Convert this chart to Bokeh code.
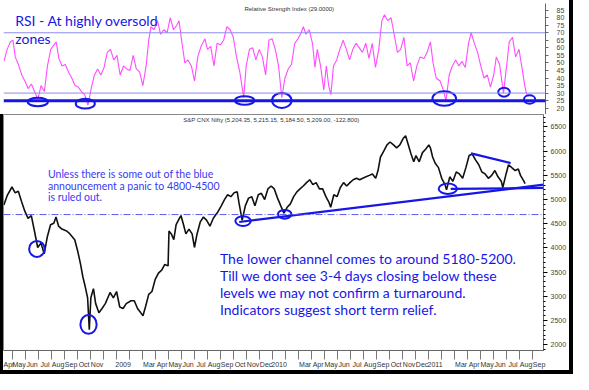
from bokeh.plotting import figure
from bokeh.layouts import column, row
from bokeh.models import Range1d, FixedTicker, Span, Div
from bokeh.embed import file_html
from bokeh.resources import INLINE
from bokeh.core.properties import value

# x values: months since 1 Jan 2008 (fractional)
price_month = [3.33, 3.58, 3.95, 4.20, 4.44, 4.70, 4.94, 5.19, 5.44, 5.68, 5.93, 6.18, 6.43, 6.67, 6.92,
               7.17, 7.34, 7.54, 7.79, 8.16, 8.41, 8.78, 9.03, 9.23, 9.40, 9.57, 9.77, 9.90, 10.02, 10.22,
               10.39, 10.64, 10.88, 11.13, 11.50, 11.75, 12.00, 12.24, 12.50, 12.74, 13.11, 13.36, 13.61,
               13.86, 14.03, 14.23, 14.47, 14.72, 14.97, 15.22, 15.47, 15.71, 15.96, 16.03, 16.21, 16.40,
               16.58, 16.83, 16.95, 17.15, 17.33, 17.57, 17.81, 17.99, 18.19, 18.44, 18.68, 18.93, 19.18,
               19.43, 19.67, 19.80, 20.05, 20.30, 20.54, 20.79, 21.04, 21.28, 21.41, 21.66, 21.90, 22.15,
               22.40, 22.64, 22.90, 23.14, 23.39, 23.64, 23.89, 24.13, 24.38, 24.63, 24.87, 25.12, 25.37,
               25.62, 25.87, 26.11, 26.36, 26.61, 26.86, 27.10, 27.35, 27.60, 27.85, 28.10, 28.34, 28.47,
               28.71, 28.96, 29.21, 29.46, 29.70, 29.95, 30.20, 30.45, 30.70, 30.94, 31.19, 31.44, 31.68,
               31.93, 32.11, 32.30, 32.55, 32.80, 33.04, 33.30, 33.54, 33.79, 34.04, 34.23, 34.41, 34.65,
               34.86, 35.03, 35.28, 35.53, 35.77, 36.02, 36.14, 36.31, 36.51, 36.76, 37.01, 37.26, 37.38,
               37.63, 37.87, 38.13, 38.37, 38.62, 38.87, 39.12, 39.36, 39.61, 39.86, 40.10, 40.35, 40.60,
               40.85, 41.10, 41.34, 41.59, 41.71, 41.96, 42.15, 42.40, 42.66, 42.90, 43.07, 43.33, 43.42]
price_close = [4890, 5080, 5260, 5140, 5170, 4950, 4760, 4610, 4670, 4350, 4010, 4100, 3880, 4230, 4480,
               4510, 4640, 4450, 4390, 4350, 4290, 4170, 3910, 3660, 3410, 3220, 2970, 2310, 2970, 3160,
               2850, 2660, 2750, 2850, 3080, 2970, 3100, 2780, 2750, 2850, 2910, 2910, 2750,
               2660, 2600, 2790, 3040, 3100, 3350, 3480, 3540, 3660, 3630, 4350, 4290, 4170,
               4480, 4610, 4670, 4480, 4290, 4390, 4290, 4010, 4290, 4540, 4640, 4570, 4450,
               4610, 4700, 4750, 4870, 5000, 5100, 5060, 5140, 5160, 4940, 4570, 4870, 5030,
               5060, 4870, 5100, 5130, 5000, 5220, 5280, 5220, 5030, 4870, 4720, 4840, 4910,
               5060, 5160, 5220, 5280, 5350, 5410, 5310, 5350, 5220, 5220, 5060, 4940, 4840,
               5100, 5060, 5250, 5350, 5280, 5350, 5410, 5440, 5410, 5440, 5470, 5500, 5530,
               5440, 5600, 5880, 6000, 6130, 6190, 6130, 6070, 6130, 6260, 6320, 6160, 5940,
               5780, 5910, 5780, 5970, 6040, 6130, 6070, 5880, 5750, 5660, 5440, 5310, 5200,
               5470, 5380, 5570, 5530, 5440, 5660, 5910, 5940, 5820, 5720, 5570, 5530, 5440,
               5500, 5600, 5470, 5380, 5250, 5530, 5720, 5660, 5600, 5630, 5500, 5380, 5330]

rsi_month = [3.33, 3.58, 3.83, 4.03, 4.20, 4.44, 4.70, 4.94, 5.19, 5.44, 5.68, 5.93, 6.18, 6.43, 6.67,
             6.92, 7.17, 7.34, 7.54, 7.79, 8.04, 8.28, 8.53, 8.78, 9.03, 9.27, 9.52, 9.77, 10.02, 10.27,
             10.51, 10.76, 11.01, 11.25, 11.50, 11.75, 12.00, 12.24, 12.50, 12.74, 12.99, 13.24, 13.48,
             13.73, 13.98, 14.23, 14.43, 14.60, 14.84, 15.10, 15.34, 15.59, 15.84, 16.08, 16.33, 16.58,
             16.75, 16.95, 17.20, 17.44, 17.70, 17.94, 18.19, 18.44, 18.74, 18.93, 19.18, 19.43, 19.67,
             19.92, 20.17, 20.42, 20.67, 20.91, 21.16, 21.41, 21.71, 21.90, 22.15, 22.40, 22.64, 22.90,
             23.14, 23.39, 23.64, 23.89, 24.13, 24.38, 24.63, 24.87, 25.12, 25.37, 25.62, 25.87, 26.11,
             26.28, 26.48, 26.73, 26.98, 27.17, 27.35, 27.60, 27.85, 28.04, 28.22, 28.39, 28.59, 28.84,
             29.08, 29.33, 29.58, 29.83, 30.07, 30.32, 30.57, 30.81, 31.07, 31.31, 31.56, 31.81, 32.06,
             32.30, 32.50, 32.75, 33.00, 33.24, 33.49, 33.74, 33.99, 34.23, 34.48, 34.73, 34.98, 35.23,
             35.53, 35.77, 36.02, 36.22, 36.46, 36.76, 37.01, 37.21, 37.46, 37.70, 37.95, 38.20, 38.44,
             38.69, 38.94, 39.14, 39.39, 39.63, 39.88, 40.13, 40.38, 40.62, 40.87, 41.07, 41.32, 41.62,
             41.86, 42.06, 42.31, 42.55, 42.81, 43.05, 43.25, 43.40]
rsi_value = [51, 59, 64, 65, 54, 49, 42, 38, 33, 36, 31, 26, 35, 31, 48,
             59, 62, 64, 53, 48, 49, 44, 40, 35, 34, 31, 29, 22, 33, 42,
             46, 42, 47, 57, 59, 52, 55, 42, 48, 46, 45, 55, 46,
             44, 35, 48, 65, 74, 72, 78, 69, 72, 70, 80, 72, 75,
             78, 65, 50, 52, 48, 38, 54, 61, 66, 59, 61, 48, 63,
             62, 65, 74, 72, 67, 54, 44, 27, 48, 59, 60, 52, 59,
             54, 42, 65, 66, 59, 48, 27, 40, 46, 49, 63, 66, 70,
             74, 69, 72, 63, 47, 59, 48, 32, 48, 35, 29, 48, 52,
             59, 65, 59, 52, 59, 63, 60, 57, 63, 53, 63, 47, 59,
             78, 82, 78, 80, 69, 57, 59, 67, 48, 50, 38, 48, 54,
             53, 57, 64, 50, 40, 38, 32, 25, 42, 48, 52, 48, 51,
             47, 63, 70, 63, 57, 48, 40, 42, 34, 42, 54, 49, 30,
             48, 64, 67, 54, 59, 46, 35, 29]

# month axis labels (month index since Jan 2008)
label_months = [3, 4, 5, 6, 7, 8, 9, 10, 12, 14, 15, 16, 17, 18, 19, 20, 21, 22, 23, 24,
                26, 27, 28, 29, 30, 31, 32, 33, 34, 35, 36, 38, 39, 40, 41, 42, 43, 44]
label_names = ["Apr", "May", "Jun", "Jul", "Aug", "Sep", "Oct", "Nov", "2009", "Mar", "Apr", "May",
               "Jun", "Jul", "Aug", "Sep", "Oct", "Nov", "Dec", "2010", "Mar", "Apr", "May", "Jun",
               "Jul", "Aug", "Sep", "Oct", "Nov", "Dec", "2011", "Mar", "Apr", "May", "Jun", "Jul",
               "Aug", "Sep"]
month_starts = list(range(3, 45))

rsi_ticks = list(range(20, 90, 5))
price_ticks = list(range(2000, 7000, 500))
price_minor = list(range(1900, 6800, 100))

# annotation drawing (hand-drawn lines / circles)
trend_month = [21.43, 44.84]
trend_price = [4536, 5308]
flat_month = [37.70, 44.84]
flat_price = [5220, 5240]
upper_month = [39.26, 42.31]
upper_price = [5954, 5754]
support_level = 4690
rsi_oversold = 25
rsi_bands = [30, 70]

price_circ_month = [5.87, 9.84, 21.73, 24.93, 37.48]
price_circ_price = [3980, 2420, 4555, 4696, 5223]
price_circ_w = [1.2, 1.25, 1.19, 1.04, 1.41]
price_circ_h = [330, 390, 200, 180, 215]

rsi_circ_month = [5.93, 9.57, 21.78, 24.63, 37.08, 41.66, 43.62]
rsi_circ_value = [24.1, 23.0, 25.1, 25.1, 26.4, 30.6, 25.7]
rsi_circ_w = [1.54, 1.46, 1.49, 1.49, 1.81, 0.89, 0.87]
rsi_circ_h = [5.6, 6.6, 5.7, 10.0, 9.6, 5.9, 5.6]

BLUE = "#1616e6"
AXF = value("Liberation Sans")

xr = Range1d(3.30, 44.84)

p1 = figure(width=569, height=114, x_range=xr, y_range=Range1d(15.8, 89.4),
            x_axis_location=None, y_axis_location="right", toolbar_location=None,
            output_backend="svg", min_border_left=3, min_border_right=24,
            min_border_top=3, min_border_bottom=0, outline_line_color=None)
p1.grid.visible = False

for lv in rsi_bands:
    p1.add_layout(Span(location=lv, dimension="width", line_color="#8c8cf0", line_width=1))
p1.add_layout(Span(location=rsi_oversold, dimension="width", line_color=BLUE, line_width=3))
p1.line(rsi_month, rsi_value, line_color="#ff4dff", line_width=1.1)
p1.ellipse(rsi_circ_month, rsi_circ_value, width=rsi_circ_w, height=rsi_circ_h,
           fill_color=None, line_color=BLUE, line_width=2)

p1.text(x=[25.2], y=[86.0], text=["Relative Strength Index (29.0000)"], text_font=AXF,
        text_font_size="6px", text_color="#333333", text_align="center", text_baseline="middle")
p1.text(x=[4.20, 4.20], y=[78.2, 66.4], text=["RSI - At highly oversold", "zones"],
        text_font=value("Lato"), text_font_size="14px", text_color=BLUE,
        text_align="left", text_baseline="middle")

ya = p1.yaxis[0]
ya.ticker = FixedTicker(ticks=rsi_ticks)
ya.major_label_text_font_size = "7px"
ya.major_label_text_font = "Liberation Sans"
ya.major_label_text_color = "#444444"
ya.major_tick_in = 0
ya.major_tick_out = 3
ya.major_label_standoff = 8
ya.axis_line_color = "#666666"
ya.major_tick_line_color = "#666666"

p2 = figure(width=566, height=256, x_range=xr, y_range=Range1d(1881, 6758),
            y_axis_location="right", toolbar_location=None, output_backend="svg",
            min_border_left=0, min_border_right=24, min_border_top=0, min_border_bottom=0,
            outline_line_color="#888888")
p2.grid.visible = False

p2.add_layout(Span(location=support_level, dimension="width", line_color="#5a5af0",
                   line_width=1, line_dash="7 2 1 2"))
p2.line(price_month, price_close, line_color="#111111", line_width=1.6)
p2.line(trend_month, trend_price, line_color=BLUE, line_width=2.2)
p2.line(flat_month, flat_price, line_color=BLUE, line_width=2.2)
p2.line(upper_month, upper_price, line_color=BLUE, line_width=2.2)
p2.ellipse(price_circ_month, price_circ_price, width=price_circ_w, height=price_circ_h,
           fill_color=None, line_color=BLUE, line_width=2)

p2.text(x=[23.9], y=[6645],
        text=["S&P CNX Nifty (5,204.35, 5,215.15, 5,184.50, 5,209.00, -122.800)"],
        text_font=AXF, text_font_size="6px", text_color="#333333",
        text_align="center", text_baseline="middle")
p2.text(x=[6.72, 6.72, 6.72], y=[5534, 5289, 5044],
        text=["Unless there is some out of the blue",
              "announcement a panic to 4800-4500",
              "is ruled out."],
        text_font=value("Lato"), text_font_size="10.5px", text_color="#3a3af5",
        text_align="left", text_baseline="middle")
p2.text(x=[19.95] * 4, y=[3788, 3431, 3086, 2728],
        text=["The lower channel comes to around 5180-5200.",
              "Till we dont see 3-4 days closing below these",
              "levels we may not confirm a turnaround.",
              "Indicators suggest short term relief."],
        text_font=value("Lato"), text_font_size="14px", text_color=BLUE,
        text_align="left", text_baseline="middle")

yb = p2.yaxis[0]
yb.ticker = FixedTicker(ticks=price_ticks, minor_ticks=price_minor)
yb.major_label_text_font_size = "7px"
yb.major_label_text_font = "Liberation Sans"
yb.major_label_text_color = "#444444"
yb.major_tick_in = 0
yb.major_tick_out = 4
yb.minor_tick_in = 0
yb.minor_tick_out = 2
yb.major_label_standoff = 3
yb.axis_line_color = "#666666"

xa = p2.xaxis[0]
xa.ticker = FixedTicker(ticks=[m + 0.5 for m in label_months], minor_ticks=month_starts)
xa.major_label_overrides = {m + 0.5: n for m, n in zip(label_months, label_names)}
xa.major_label_text_font_size = "7px"
xa.major_label_text_font = "Liberation Sans"
xa.major_label_text_color = "#333333"
xa.major_tick_line_color = None
xa.major_tick_out = 0
xa.major_tick_in = 0
xa.minor_tick_in = 0
xa.minor_tick_out = 9
xa.minor_tick_line_color = "#777777"
xa.major_label_standoff = 1
xa.axis_line_color = "#666666"

black = {"background-color": "black"}
left_strip = Div(text="", width=3, height=256, styles=black, margin=0)
bottom_strip = Div(text="", width=569, height=4, styles=black, margin=0)
right_strip = Div(text="", width=4, height=374, styles=black, margin=0)

layout = row(column(p1, row(left_strip, p2, spacing=0), bottom_strip, spacing=0),
             right_strip, spacing=0)

open("out.html", "w").write(file_html(layout, INLINE))
